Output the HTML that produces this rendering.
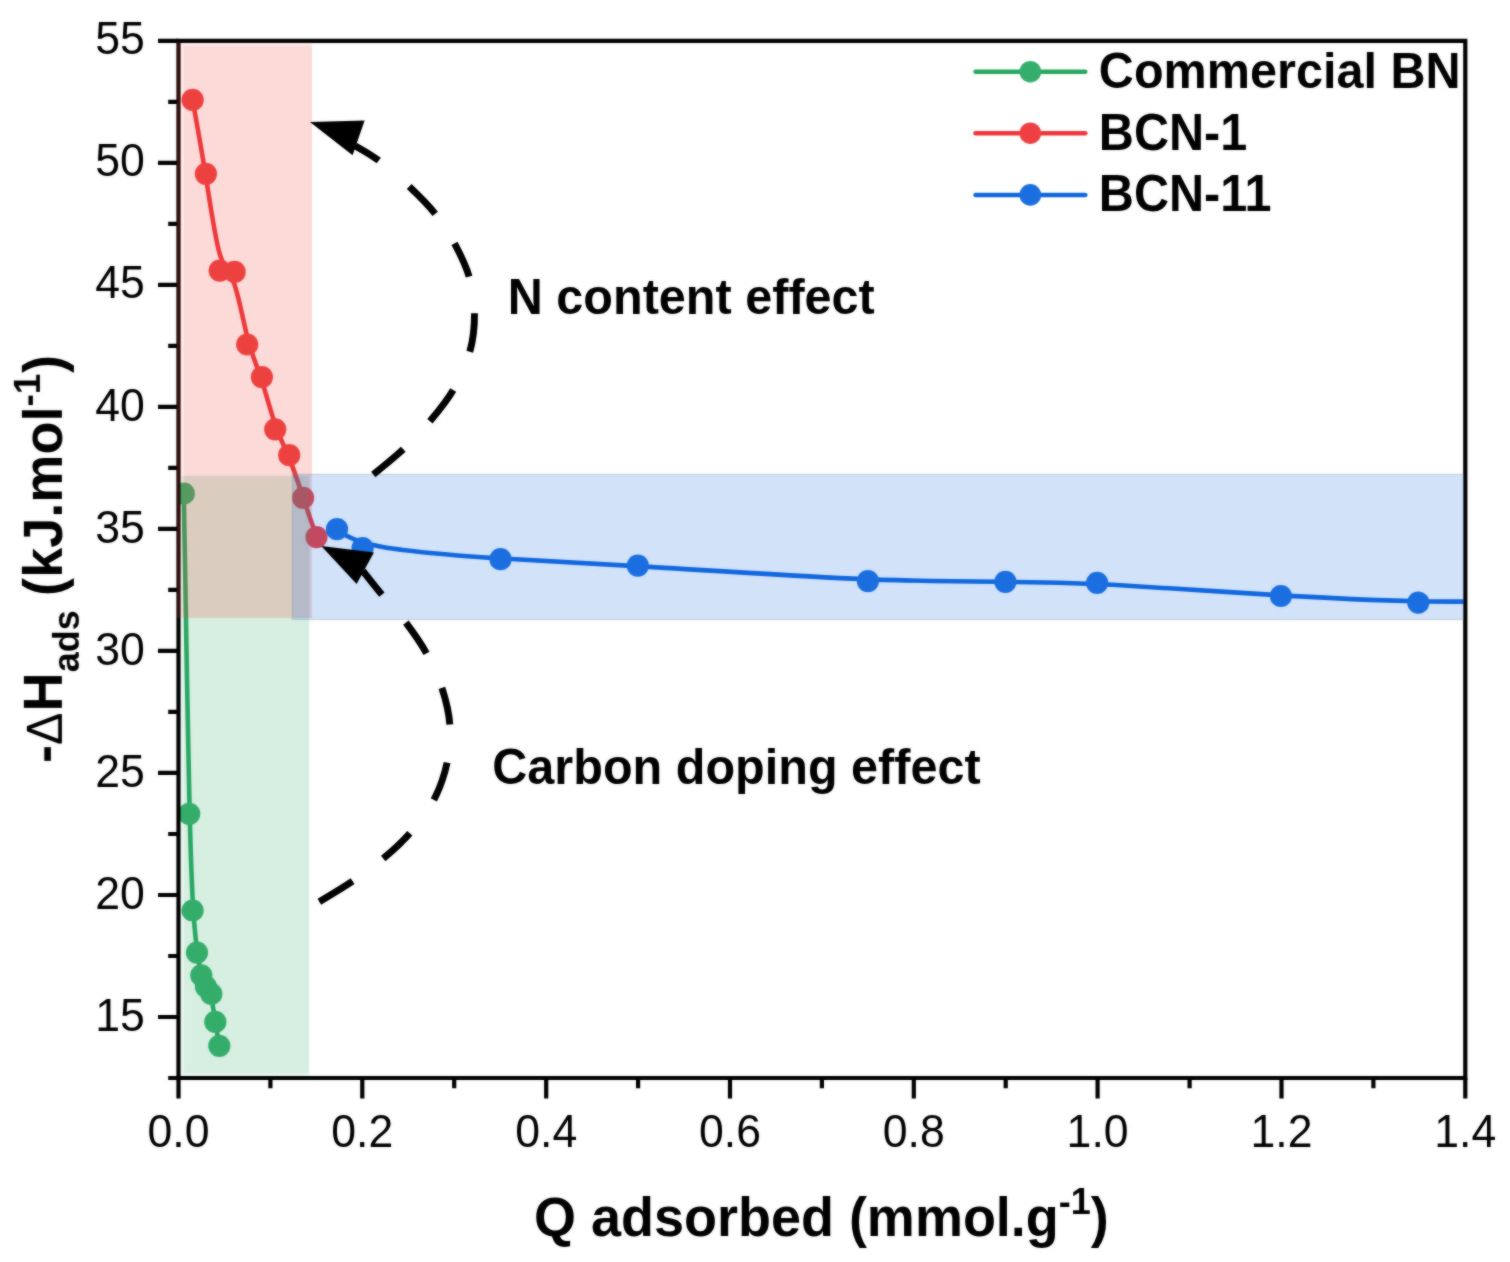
<!DOCTYPE html>
<html lang="en"><head><meta charset="utf-8"><title>Heat of adsorption vs Q adsorbed</title>
<style>
html,body{margin:0;padding:0;background:#fff;}
body{width:1510px;height:1262px;overflow:hidden;}
svg{display:block;}
text{font-family:"Liberation Sans",sans-serif;fill:#000;}
.tick{font-size:44.6px;}
.b49{font-size:48.6px;font-weight:bold;}
.ttl{font-size:54px;font-weight:bold;}
.ss{font-size:36px;font-weight:bold;}
</style></head><body>
<svg width="1510" height="1262" viewBox="0 0 1510 1262" role="img" aria-label="Heat of adsorption versus quantity adsorbed">
<rect x="0" y="0" width="1510" height="1262" fill="#fff"/>
<defs><filter id="soft" filterUnits="userSpaceOnUse" x="0" y="0" width="1510" height="1262" color-interpolation-filters="sRGB"><feGaussianBlur stdDeviation="0.80" result="b"/><feComposite in="b" in2="SourceGraphic" operator="arithmetic" k1="0" k2="0.5" k3="0.5" k4="0"/></filter></defs>
<g id="chart" filter="url(#soft)">
<g id="data" fill="none" stroke-linecap="round" stroke-linejoin="round">
<clipPath id="plotclip"><rect x="178.5" y="40.8" width="1286.8" height="1037.2"/></clipPath>
<g clip-path="url(#plotclip)">
<path d="M183.8,493.5 C183.8,493.5 183.8,493.5 184.7,546.9 C185.6,600.3 187.4,707.0 188.9,776.5 C190.3,846.0 191.5,878.3 192.8,901.4 C194.1,924.5 195.5,938.6 197.0,949.4 C198.4,960.2 199.9,967.7 201.3,973.4 C202.8,979.1 204.4,982.8 206.0,985.9 C207.7,989.0 209.5,991.5 211.1,997.3 C212.6,1003.2 214.0,1012.6 215.3,1021.2 C216.6,1029.9 218.0,1037.8 218.6,1041.8 C219.3,1045.8 219.3,1045.8 219.3,1045.8" stroke="#27a660" stroke-width="4.6"/>
<path d="M192.6,99.9 C192.6,99.9 192.6,99.9 194.8,112.2 C197.0,124.5 201.5,149.2 206.0,177.6 C210.5,206.1 215.1,238.3 219.9,254.7 C224.7,271.0 229.6,271.5 234.2,283.8 C238.8,296.1 243.0,320.3 247.5,337.8 C252.1,355.4 257.0,366.2 261.7,380.4 C266.3,394.5 270.8,411.9 275.3,424.9 C279.9,437.9 284.5,446.6 289.2,458.0 C293.8,469.4 298.5,483.6 303.0,497.2 C307.6,510.9 312.0,524.0 314.3,530.5 C316.5,537.1 316.5,537.1 316.5,537.1" stroke="#ee3439" stroke-width="4.6"/>
<path d="M337.0,529.2 C337.0,529.2 337.0,529.2 341.3,532.3 C345.5,535.5 354.1,541.7 381.3,546.7 C408.6,551.7 454.5,555.5 500.4,558.4 C546.3,561.3 592.0,563.5 653.3,567.1 C714.5,570.8 791.2,575.9 852.5,578.6 C913.7,581.3 959.6,581.6 997.8,581.8 C1036.0,582.1 1066.5,582.5 1112.4,584.8 C1158.4,587.2 1219.6,591.6 1273.2,594.9 C1326.7,598.2 1372.5,600.4 1418.3,601.2 C1464.2,602.1 1510.1,601.5 1533.0,601.3 C1556.0,601.0 1556.0,601.0 1556.0,601.0" stroke="#0d64de" stroke-width="4.6"/>
<circle cx="183.8" cy="493.5" r="11.1" fill="#35ad6b"/>
<circle cx="189.2" cy="813.8" r="11.1" fill="#35ad6b"/>
<circle cx="192.6" cy="910.5" r="11.1" fill="#35ad6b"/>
<circle cx="197.0" cy="952.6" r="11.1" fill="#35ad6b"/>
<circle cx="201.3" cy="975.3" r="11.1" fill="#35ad6b"/>
<circle cx="205.9" cy="986.6" r="11.1" fill="#35ad6b"/>
<circle cx="211.3" cy="993.9" r="11.1" fill="#35ad6b"/>
<circle cx="215.3" cy="1021.9" r="11.1" fill="#35ad6b"/>
<circle cx="219.3" cy="1045.8" r="11.1" fill="#35ad6b"/>
<circle cx="192.6" cy="99.9" r="11.1" fill="#ee4042"/>
<circle cx="205.9" cy="173.8" r="11.1" fill="#ee4042"/>
<circle cx="219.7" cy="270.6" r="11.1" fill="#ee4042"/>
<circle cx="234.6" cy="271.9" r="11.1" fill="#ee4042"/>
<circle cx="247.2" cy="344.5" r="11.1" fill="#ee4042"/>
<circle cx="261.9" cy="377.1" r="11.1" fill="#ee4042"/>
<circle cx="275.2" cy="429.3" r="11.1" fill="#ee4042"/>
<circle cx="289.2" cy="455.2" r="11.1" fill="#ee4042"/>
<circle cx="303.1" cy="497.8" r="11.1" fill="#ee4042"/>
<circle cx="316.5" cy="537.1" r="11.1" fill="#ee4042"/>
<circle cx="337.0" cy="529.2" r="11.1" fill="#1b6ee0"/>
<circle cx="362.6" cy="548.0" r="11.1" fill="#1b6ee0"/>
<circle cx="500.5" cy="559.2" r="11.1" fill="#1b6ee0"/>
<circle cx="637.8" cy="565.6" r="11.1" fill="#1b6ee0"/>
<circle cx="867.9" cy="581.1" r="11.1" fill="#1b6ee0"/>
<circle cx="1005.4" cy="581.8" r="11.1" fill="#1b6ee0"/>
<circle cx="1097.1" cy="582.8" r="11.1" fill="#1b6ee0"/>
<circle cx="1280.9" cy="596.0" r="11.1" fill="#1b6ee0"/>
<circle cx="1418.3" cy="602.6" r="11.1" fill="#1b6ee0"/>
</g></g>
<g id="axes" stroke="#000" stroke-width="4.2" fill="none">
<path d="M178.5,40.8 H1465.3 V1078.0 H178.5 Z"/>
<path d="M178.5,40.8 H158.0 M178.5,162.8 H158.0 M178.5,284.8 H158.0 M178.5,406.9 H158.0 M178.5,528.9 H158.0 M178.5,650.9 H158.0 M178.5,772.9 H158.0 M178.5,895.0 H158.0 M178.5,1017.0 H158.0 M178.5,101.8 H168.2 M178.5,223.8 H168.2 M178.5,345.9 H168.2 M178.5,467.9 H168.2 M178.5,589.9 H168.2 M178.5,711.9 H168.2 M178.5,834.0 H168.2 M178.5,956.0 H168.2 M178.5,1078.0 H168.2 M178.5,1078.0 V1098.5 M362.3,1078.0 V1098.5 M546.2,1078.0 V1098.5 M730.0,1078.0 V1098.5 M913.8,1078.0 V1098.5 M1097.6,1078.0 V1098.5 M1281.5,1078.0 V1098.5 M1465.3,1078.0 V1098.5 M270.4,1078.0 V1088.3 M454.2,1078.0 V1088.3 M638.1,1078.0 V1088.3 M821.9,1078.0 V1088.3 M1005.7,1078.0 V1088.3 M1189.6,1078.0 V1088.3 M1373.4,1078.0 V1088.3"/>
</g>
<g id="bands">
<rect x="180.3" y="475.8" width="128.9" height="600.2" fill="#35ad6b" fill-opacity="0.1"/>
<rect x="183.6" y="475.8" width="125.6" height="597.4" fill="#35ad6b" fill-opacity="0.111"/>
<rect x="176.6" y="42" width="135.4" height="576" fill="#f0463c" fill-opacity="0.1"/>
<rect x="183.6" y="45.6" width="128.4" height="572.4" fill="#f0463c" fill-opacity="0.111"/>
<rect x="176.6" y="42" width="4" height="576" fill="#f0463c" fill-opacity="0.111"/>
<rect x="292.3" y="474.3" width="1171.1" height="145.2" fill="#1b6ee0" fill-opacity="0.2" stroke="#7d8794" stroke-opacity="0.3" stroke-width="1.2"/>
</g>
<g id="arrows" stroke="#000" stroke-width="6.9" fill="none">
<path d="M355.3,145.9 C359.2,148.3 369.8,153.8 378.8,160.6"/>
<path d="M409.2,186.6 C418.6,195.5 427.6,204.4 435.2,213.8"/>
<path d="M454.5,243.3 C460.1,253.8 465.8,265.0 469.1,276.6"/>
<path d="M474.5,313.2 C474.6,325.7 473.4,339.0 469.8,351.8"/>
<path d="M453.2,390.0 C446.5,401.6 438.2,411.4 429.9,421.3"/>
<path d="M403.2,449.2 C393.8,458.1 378.3,470.3 373.3,474.5"/>
<path d="M363.0,571.0 C366.1,574.9 374.8,586.0 381.9,594.6"/>
<path d="M405.9,622.6 C413.3,632.4 420.5,642.4 426.5,653.3"/>
<path d="M441.9,687.9 C445.8,699.8 448.9,712.0 449.8,724.5"/>
<path d="M447.1,762.6 C444.4,775.2 440.0,788.1 433.8,799.9"/>
<path d="M409.8,833.2 C401.4,843.0 392.7,850.5 383.2,858.5"/>
<path d="M352.6,881.2 C342.0,888.4 324.9,898.4 319.3,901.8"/>
<path d="M310.0,122.0 L364.6,120.6 L352.6,155.3 Z" fill="#000" stroke="none"/>
<path d="M321.3,546.0 L373.9,552.6 L356.6,583.9 Z" fill="#000" stroke="none"/>
</g>
<g id="ticklabels" class="tick">
<text transform="translate(144.8,54.4) scale(1,1.030)" text-anchor="end">55</text>
<text transform="translate(144.8,176.4) scale(1,1.030)" text-anchor="end">50</text>
<text transform="translate(144.8,298.4) scale(1,1.030)" text-anchor="end">45</text>
<text transform="translate(144.8,420.5) scale(1,1.030)" text-anchor="end">40</text>
<text transform="translate(144.8,542.5) scale(1,1.030)" text-anchor="end">35</text>
<text transform="translate(144.8,664.5) scale(1,1.030)" text-anchor="end">30</text>
<text transform="translate(144.8,786.5) scale(1,1.030)" text-anchor="end">25</text>
<text transform="translate(144.8,908.6) scale(1,1.030)" text-anchor="end">20</text>
<text transform="translate(144.8,1030.6) scale(1,1.030)" text-anchor="end">15</text>
<text transform="translate(178.5,1146.9) scale(1,1.030)" text-anchor="middle">0.0</text>
<text transform="translate(362.3,1146.9) scale(1,1.030)" text-anchor="middle">0.2</text>
<text transform="translate(546.2,1146.9) scale(1,1.030)" text-anchor="middle">0.4</text>
<text transform="translate(730.0,1146.9) scale(1,1.030)" text-anchor="middle">0.6</text>
<text transform="translate(913.8,1146.9) scale(1,1.030)" text-anchor="middle">0.8</text>
<text transform="translate(1097.6,1146.9) scale(1,1.030)" text-anchor="middle">1.0</text>
<text transform="translate(1281.5,1146.9) scale(1,1.030)" text-anchor="middle">1.2</text>
<text transform="translate(1465.3,1146.9) scale(1,1.030)" text-anchor="middle">1.4</text>
</g>
<g id="legend">
<path d="M975.5,71.7 H1085.3" stroke="#27a660" stroke-width="4.5" stroke-linecap="round" fill="none"/>
<circle cx="1030.3" cy="71.7" r="10.8" fill="#35ad6b"/>
<text class="b49" transform="translate(1098.8,88.1) scale(1,1.025)">Commercial BN</text>
<path d="M975.5,133.2 H1085.3" stroke="#ee3439" stroke-width="4.5" stroke-linecap="round" fill="none"/>
<circle cx="1030.3" cy="133.2" r="10.8" fill="#ee4042"/>
<text class="b49" transform="translate(1098.8,149.6) scale(1,1.050)">BCN-1</text>
<path d="M975.5,194.9 H1085.3" stroke="#0d64de" stroke-width="4.5" stroke-linecap="round" fill="none"/>
<circle cx="1030.3" cy="194.9" r="10.8" fill="#1b6ee0"/>
<text class="b49" transform="translate(1098.8,211.3) scale(1,1.050)">BCN-11</text>
</g>
<text class="b49" transform="translate(507.7,313.8) scale(1,1.035)">N content effect</text>
<text class="b49" transform="translate(492.2,783.8) scale(1,1.035)">Carbon doping effect</text>
<text class="ttl" transform="translate(533.9,1236.2) scale(1,1.02)">Q adsorbed (mmol.g<tspan class="ss" dy="-22">-1</tspan><tspan dy="22">)</tspan></text>
<g transform="translate(62,763) rotate(-90) scale(1,1.02)">
<text class="ttl" style="font-size:54.1px" x="0" y="0">-<tspan style="font-weight:normal;font-size:48.5px" dx="0">&#916;</tspan><tspan dx="1.2">H</tspan><tspan class="ss" dy="16.4" dx="0">ads</tspan><tspan dy="-16.4" dx="-0.6"> (kJ.mol</tspan><tspan class="ss" style="font-size:37px" dy="-22">-1</tspan><tspan dy="22" dx="0.6">)</tspan></text>
</g>
</g>
</svg></body></html>
